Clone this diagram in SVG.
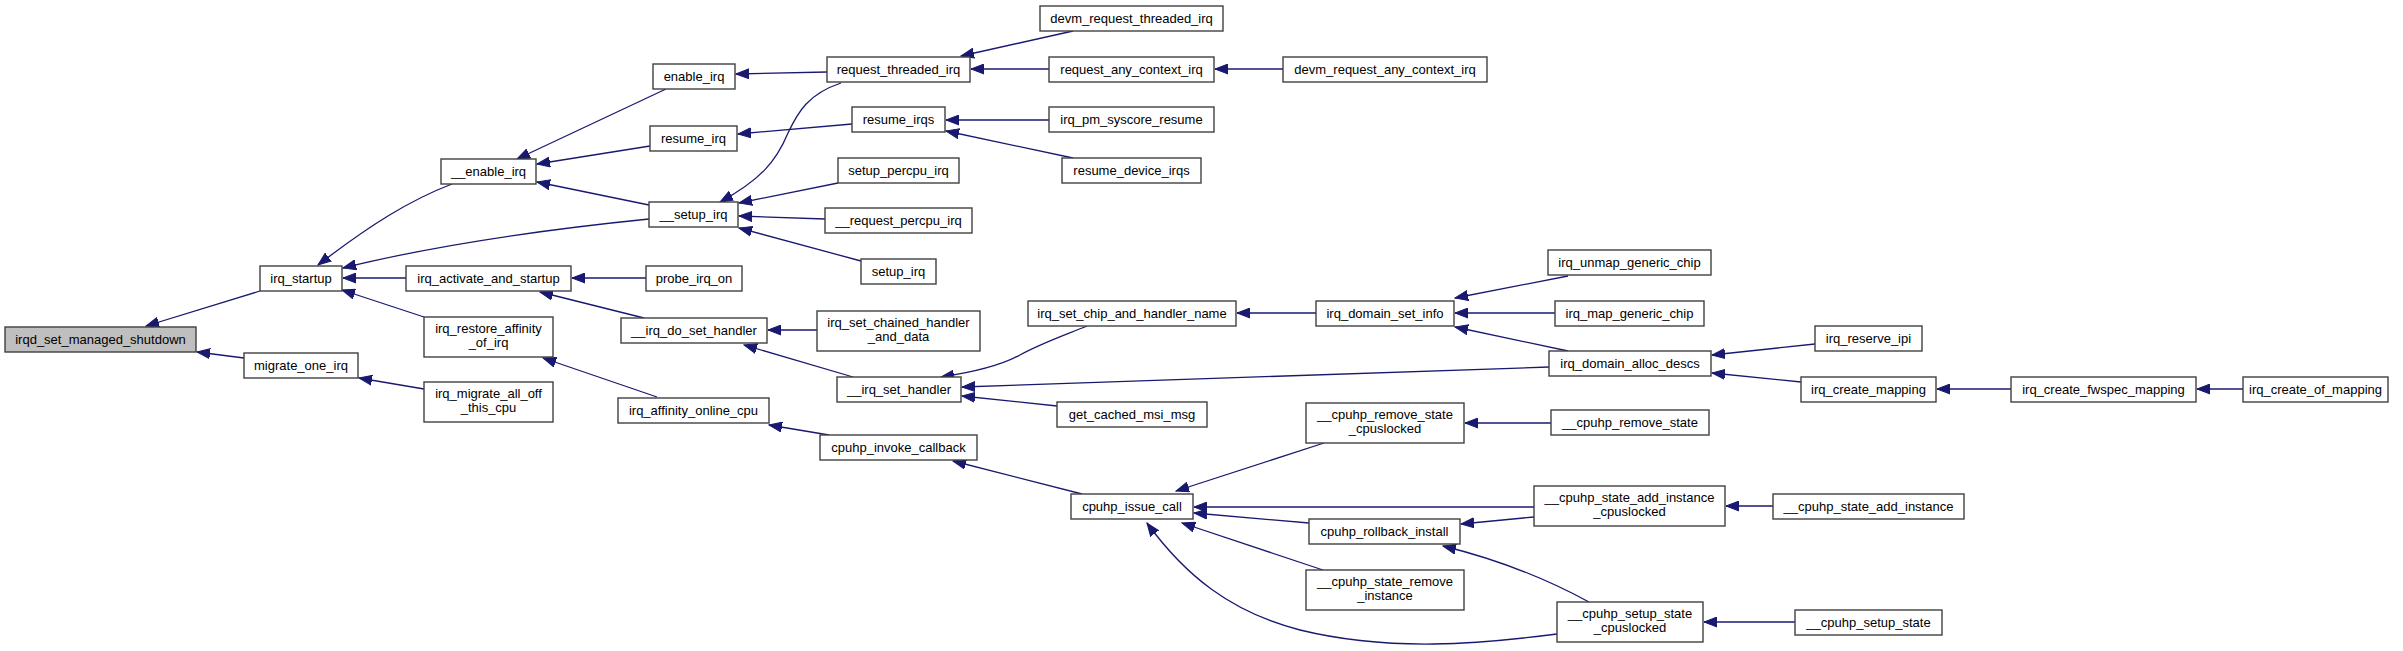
<svg xmlns="http://www.w3.org/2000/svg" width="2403" height="651" viewBox="0 0 2403 651">
<style>
.n rect{fill:#ffffff;stroke:#404040;stroke-width:1.4}
.n.root rect{fill:#bfbfbf}
.n text{font-family:"Liberation Sans",Arial,Helvetica,sans-serif;font-size:13px;text-anchor:middle;fill:#000}
.e path{fill:none;stroke:#191970;stroke-width:1.3;marker-end:url(#a)}
</style>
<defs>
<marker id="a" markerUnits="userSpaceOnUse" markerWidth="14" markerHeight="11" refX="13" refY="5" orient="auto" viewBox="0 0 14 10">
<path d="M0,0 L13,5 L0,10 z" fill="#191970" stroke="#191970" stroke-width="1"/>
</marker>
</defs>
<rect width="2403" height="651" fill="#ffffff"/>
<g id="edges" class="e">
<path d="M260,291 L146,326"/>
<path d="M244,358 L197,352"/>
<path d="M452,184 C410,200 370,225 318,265"/>
<path d="M649,219 C560,228 440,244 343,268"/>
<path d="M406,278 L343,278"/>
<path d="M424,317 L342,290"/>
<path d="M424,389 L359,378"/>
<path d="M666,89 L517,159"/>
<path d="M650,146 L537,164"/>
<path d="M649,205 L537,182"/>
<path d="M646,278 L572,278"/>
<path d="M644,318 L540,292"/>
<path d="M657,397 L543,358"/>
<path d="M841,83 C808,94 798,112 788,133 C776,162 760,180 720,202"/>
<path d="M827,72 L736,74"/>
<path d="M852,124 L738,134"/>
<path d="M838,183 L739,203"/>
<path d="M825,219 L739,216"/>
<path d="M861,261 L739,228"/>
<path d="M1073,31 L961,56"/>
<path d="M1049,69 L971,69"/>
<path d="M1283,69 L1215,69"/>
<path d="M1049,120 L946,120"/>
<path d="M1073,158 L946,131"/>
<path d="M817,330 L768,330"/>
<path d="M853,377 L744,345"/>
<path d="M829,435 L769,425"/>
<path d="M1087,326 C1060,337 1040,344 1020,355 C1000,366 975,372 941,377"/>
<path d="M1549,367 L962,387"/>
<path d="M1057,406 L962,396"/>
<path d="M1082,494 L953,461"/>
<path d="M1316,313 L1237,313"/>
<path d="M1568,276 L1455,298"/>
<path d="M1555,313 L1455,313"/>
<path d="M1568,351 L1455,327"/>
<path d="M1815,344 L1712,355"/>
<path d="M1801,382 L1712,373"/>
<path d="M2011,389 L1937,389"/>
<path d="M2243,389 L2197,389"/>
<path d="M1324,443 L1176,491"/>
<path d="M1534,507 L1194,507"/>
<path d="M1309,523 L1194,513"/>
<path d="M1323,570 L1182,523"/>
<path d="M1557,634 C1480,644 1390,652 1300,630 C1230,612 1185,575 1147,523"/>
<path d="M1534,517 L1461,524"/>
<path d="M1589,602 C1545,578 1500,560 1443,546"/>
<path d="M1551,423 L1465,423"/>
<path d="M1773,506 L1726,506"/>
<path d="M1795,622 L1704,622"/>
</g>
<g id="n0" class="n root"><rect x="5" y="327" width="191" height="25"/><text x="100.5" y="344">irqd_set_managed_shutdown</text></g>
<g id="n1" class="n"><rect x="260" y="266" width="82" height="25"/><text x="301" y="283">irq_startup</text></g>
<g id="n2" class="n"><rect x="244" y="353" width="114" height="25"/><text x="301" y="370">migrate_one_irq</text></g>
<g id="n3" class="n"><rect x="441" y="159" width="95" height="25"/><text x="488.5" y="176">__enable_irq</text></g>
<g id="n4" class="n"><rect x="649" y="202" width="89" height="25"/><text x="693.5" y="219">__setup_irq</text></g>
<g id="n5" class="n"><rect x="406" y="266" width="165" height="25"/><text x="488.5" y="283">irq_activate_and_startup</text></g>
<g id="n6" class="n"><rect x="424" y="317" width="129" height="40"/><text x="488.5" y="333">irq_restore_affinity</text><text x="488.5" y="347">_of_irq</text></g>
<g id="n7" class="n"><rect x="424" y="382" width="129" height="40"/><text x="488.5" y="398">irq_migrate_all_off</text><text x="488.5" y="412">_this_cpu</text></g>
<g id="n8" class="n"><rect x="653" y="64" width="82" height="25"/><text x="694" y="81">enable_irq</text></g>
<g id="n9" class="n"><rect x="650" y="126" width="87" height="25"/><text x="693.5" y="143">resume_irq</text></g>
<g id="n10" class="n"><rect x="646" y="266" width="96" height="25"/><text x="694" y="283">probe_irq_on</text></g>
<g id="n11" class="n"><rect x="621" y="318" width="146" height="25"/><text x="694" y="335">__irq_do_set_handler</text></g>
<g id="n12" class="n"><rect x="618" y="398" width="151" height="25"/><text x="693.5" y="415">irq_affinity_online_cpu</text></g>
<g id="n13" class="n"><rect x="827" y="57" width="143" height="25"/><text x="898.5" y="74">request_threaded_irq</text></g>
<g id="n14" class="n"><rect x="852" y="107" width="93" height="25"/><text x="898.5" y="124">resume_irqs</text></g>
<g id="n15" class="n"><rect x="838" y="158" width="121" height="25"/><text x="898.5" y="175">setup_percpu_irq</text></g>
<g id="n16" class="n"><rect x="825" y="208" width="147" height="25"/><text x="898.5" y="225">__request_percpu_irq</text></g>
<g id="n17" class="n"><rect x="861" y="259" width="75" height="25"/><text x="898.5" y="276">setup_irq</text></g>
<g id="n18" class="n"><rect x="817" y="311" width="163" height="40"/><text x="898.5" y="327">irq_set_chained_handler</text><text x="898.5" y="341">_and_data</text></g>
<g id="n19" class="n"><rect x="837" y="377" width="124" height="25"/><text x="899" y="394">__irq_set_handler</text></g>
<g id="n20" class="n"><rect x="820" y="435" width="157" height="25"/><text x="898.5" y="452">cpuhp_invoke_callback</text></g>
<g id="n21" class="n"><rect x="1040" y="6" width="183" height="25"/><text x="1131.5" y="23">devm_request_threaded_irq</text></g>
<g id="n22" class="n"><rect x="1049" y="57" width="165" height="25"/><text x="1131.5" y="74">request_any_context_irq</text></g>
<g id="n23" class="n"><rect x="1049" y="107" width="165" height="25"/><text x="1131.5" y="124">irq_pm_syscore_resume</text></g>
<g id="n24" class="n"><rect x="1062" y="158" width="139" height="25"/><text x="1131.5" y="175">resume_device_irqs</text></g>
<g id="n25" class="n"><rect x="1028" y="301" width="208" height="25"/><text x="1132" y="318">irq_set_chip_and_handler_name</text></g>
<g id="n26" class="n"><rect x="1057" y="402" width="150" height="25"/><text x="1132" y="419">get_cached_msi_msg</text></g>
<g id="n27" class="n"><rect x="1071" y="494" width="122" height="25"/><text x="1132" y="511">cpuhp_issue_call</text></g>
<g id="n28" class="n"><rect x="1283" y="57" width="204" height="25"/><text x="1385" y="74">devm_request_any_context_irq</text></g>
<g id="n29" class="n"><rect x="1316" y="301" width="138" height="25"/><text x="1385" y="318">irq_domain_set_info</text></g>
<g id="n30" class="n"><rect x="1306" y="403" width="158" height="40"/><text x="1385" y="419">__cpuhp_remove_state</text><text x="1385" y="433">_cpuslocked</text></g>
<g id="n31" class="n"><rect x="1309" y="519" width="151" height="25"/><text x="1384.5" y="536">cpuhp_rollback_install</text></g>
<g id="n32" class="n"><rect x="1306" y="570" width="158" height="40"/><text x="1385" y="586">__cpuhp_state_remove</text><text x="1385" y="600">_instance</text></g>
<g id="n33" class="n"><rect x="1548" y="250" width="163" height="25"/><text x="1629.5" y="267">irq_unmap_generic_chip</text></g>
<g id="n34" class="n"><rect x="1555" y="301" width="149" height="25"/><text x="1629.5" y="318">irq_map_generic_chip</text></g>
<g id="n35" class="n"><rect x="1549" y="351" width="162" height="25"/><text x="1630" y="368">irq_domain_alloc_descs</text></g>
<g id="n36" class="n"><rect x="1551" y="410" width="158" height="25"/><text x="1630" y="427">__cpuhp_remove_state</text></g>
<g id="n37" class="n"><rect x="1534" y="486" width="191" height="40"/><text x="1629.5" y="502">__cpuhp_state_add_instance</text><text x="1629.5" y="516">_cpuslocked</text></g>
<g id="n38" class="n"><rect x="1557" y="602" width="146" height="40"/><text x="1630" y="618">__cpuhp_setup_state</text><text x="1630" y="632">_cpuslocked</text></g>
<g id="n39" class="n"><rect x="1815" y="326" width="107" height="25"/><text x="1868.5" y="343">irq_reserve_ipi</text></g>
<g id="n40" class="n"><rect x="1801" y="377" width="135" height="25"/><text x="1868.5" y="394">irq_create_mapping</text></g>
<g id="n41" class="n"><rect x="1773" y="494" width="191" height="25"/><text x="1868.5" y="511">__cpuhp_state_add_instance</text></g>
<g id="n42" class="n"><rect x="1795" y="610" width="147" height="25"/><text x="1868.5" y="627">__cpuhp_setup_state</text></g>
<g id="n43" class="n"><rect x="2011" y="377" width="185" height="25"/><text x="2103.5" y="394">irq_create_fwspec_mapping</text></g>
<g id="n44" class="n"><rect x="2243" y="377" width="145" height="25"/><text x="2315.5" y="394">irq_create_of_mapping</text></g>
</svg>
